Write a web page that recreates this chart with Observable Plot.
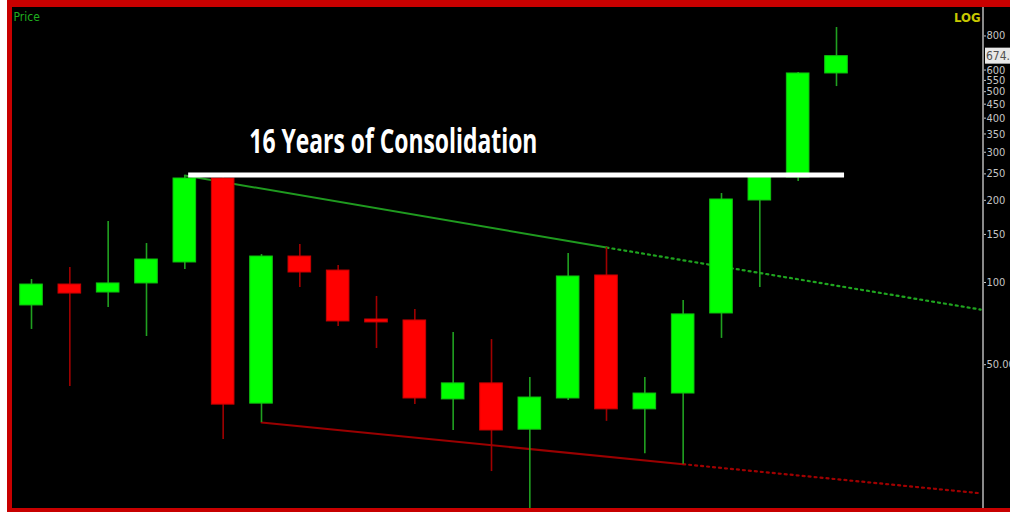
<!DOCTYPE html>
<html>
<head>
<meta charset="utf-8">
<script src="https://cdn.jsdelivr.net/npm/d3@7"></script>
<script src="https://cdn.jsdelivr.net/npm/@observablehq/plot@0.6"></script>
<style>
  html, body { margin: 0; padding: 0; background: #ffffff; }
  #wrap {
    margin-left: 7px;
    width: 998px;
    border-left: 5px solid #c80000;
    border-top: 7px solid #c80000;
    border-bottom: 4px solid #c80000;
    background: #000;
    line-height: 0;
  }
</style>
</head>
<body>
<div id="wrap"></div>
<script>
// ---- data (log price scale) ----
const periods = [1,2,3,4,5,6,7,8,9,10,11,12,13,14,15,16,17,18,19,20,21,22];
const opens  = [82.4, 98.3, 91.9, 99.2, 118.4, 240.4, 36.0, 124.5, 110.6, 73.2, 72.6, 37.3, 42.7, 28.9, 37.6, 106.1, 34.3, 39.2, 77.0, 199.7, 242.5, 583];
const highs  = [102.6, 113.5, 167.3, 138.9, 246.6, 242, 126.6, 137.8, 115.4, 88.9, 79.6, 65.6, 61.8, 44.9, 127.7, 134.3, 44.9, 85.9, 211.8, 248.7, 587.6, 859];
const lows   = [67.3, 41.6, 81.0, 63.4, 111.6, 26.6, 30.7, 95.9, 69.0, 57.3, 35.7, 28.7, 20.3, 14.0, 37.0, 31.0, 23.6, 21.6, 62.4, 95.9, 234.4, 522];
const closes = [98.3, 91.1, 99.2, 121.4, 240.4, 35.7, 124.5, 108.8, 72.0, 71.4, 37.6, 42.7, 28.7, 37.9, 105.2, 34.3, 39.2, 76.4, 201.4, 242.5, 583, 674.7];

const yTicks = [50, 100, 150, 200, 250, 300, 350, 400, 450, 500, 550, 600, 800];
const lastPrice = 674.7;

// trend lines: [period index, price]
const resistanceLevel = 247.6;
const resistanceSpan = [4.1, 21.21];
const upperTrendSolid  = [[4, 246.6], [15, 134.3]];
const upperTrendDotted = [[15, 134.3], [24.76, 79.6]];
const lowerTrendSolid  = [[6, 30.7], [17, 21.6]];
const lowerTrendDotted = [[17, 21.6], [24.76, 16.9]];

const annotation = "16 Years of Consolidation";
const annotationAt = [9.44, 297];

// ---- build ----
const candles = periods.map((p, k) => ({
  i: k, open: opens[k], high: highs[k], low: lows[k], close: closes[k]
}));
const up = candles.filter(d => d.close >= d.open);
const down = candles.filter(d => d.close < d.open);
const toPts = arr => arr.map(([i, v]) => ({i, v}));

const W = 998, H = 501, MR = 27;
const half = 0.295;

const plot = Plot.plot({
  width: W,
  height: H,
  marginLeft: 0,
  marginRight: MR,
  marginTop: 0,
  marginBottom: 0,
  style: {background: "#000", fontFamily: "'Liberation Sans Narrow', 'DejaVu Sans Condensed', sans-serif", fontSize: "12px"},
  x: {domain: [0, 21], range: [19, 824], axis: null},
  y: {type: "log", domain: [10, 1000], range: [548, 2]},
  marks: [
    // trend lines
    Plot.line(toPts(upperTrendSolid), {x: "i", y: "v", stroke: "#1f9a1f", strokeWidth: 2, clip: true}),
    Plot.line(toPts(upperTrendDotted), {x: "i", y: "v", stroke: "#1fa51f", strokeWidth: 2.2, strokeDasharray: "2,4", clip: true}),
    Plot.line(toPts(lowerTrendSolid), {x: "i", y: "v", stroke: "#9a0000", strokeWidth: 2, clip: true}),
    Plot.line(toPts(lowerTrendDotted), {x: "i", y: "v", stroke: "#a00000", strokeWidth: 2.2, strokeDasharray: "2,4", clip: true}),
    // wicks
    Plot.ruleX(up, {x: "i", y1: "low", y2: "high", stroke: "#20a020", strokeWidth: 1.6, clip: true}),
    Plot.ruleX(down, {x: "i", y1: "low", y2: "high", stroke: "#a00000", strokeWidth: 1.6, clip: true}),
    // bodies
    Plot.rect(up, {x1: d => d.i - half, x2: d => d.i + half, y1: "open", y2: "close", fill: "#00ff00", stroke: "#10c010", strokeWidth: 1, clip: true}),
    Plot.rect(down, {x1: d => d.i - half, x2: d => d.i + half, y1: "open", y2: "close", fill: "#ff0000", stroke: "#c80000", strokeWidth: 1, clip: true}),
    // resistance line
    Plot.ruleY([resistanceLevel], {x1: resistanceSpan[0], x2: resistanceSpan[1], stroke: "#ffffff", strokeWidth: 5}),
    // annotation
    Plot.text([annotation], {x: annotationAt[0], y: annotationAt[1], text: d => d, fill: "#ffffff", fontSize: 34, fontWeight: "bold", fontFamily: "'Open Sans', sans-serif", textAnchor: "middle", lineAnchor: "bottom", className: "anno"}),
    // labels
    Plot.text(["Price"], {frameAnchor: "top-left", text: d => d, dx: 1, dy: 5, fill: "#1fae1f", fontSize: 12}),
    Plot.text(["LOG"], {frameAnchor: "top-right", text: d => d, dx: -3, dy: 5, fill: "#c8c800", fontSize: 13, fontWeight: "bold"}),
    // axis
    Plot.axisY(yTicks, {anchor: "right", tickSize: 2, tickPadding: 1, color: "#c4c4c4", tickFormat: d => d === 50 ? "50.00" : String(d), label: null, fontSize: 11})
  ]
});

const svg = d3.select(plot);
// axis line
svg.append("line")
  .attr("x1", W - MR).attr("x2", W - MR)
  .attr("y1", 0).attr("y2", H)
  .attr("stroke", "#8a8a8a").attr("stroke-width", 2);
// last price box
const yLast = plot.scale("y").apply(lastPrice);
svg.append("rect")
  .attr("x", W - MR + 2).attr("y", yLast - 8)
  .attr("width", 40).attr("height", 16)
  .attr("fill", "#e8e8e8");
svg.append("text")
  .attr("x", W - MR + 3).attr("y", yLast + 4)
  .attr("text-anchor", "start")
  .attr("fill", "#505050").attr("font-size", 12)
  .text(String(lastPrice));
// condensed title text
svg.select("g.anno text")
  .attr("textLength", 288)
  .attr("lengthAdjust", "spacingAndGlyphs");

document.getElementById("wrap").appendChild(plot);
</script>
</body>
</html>
